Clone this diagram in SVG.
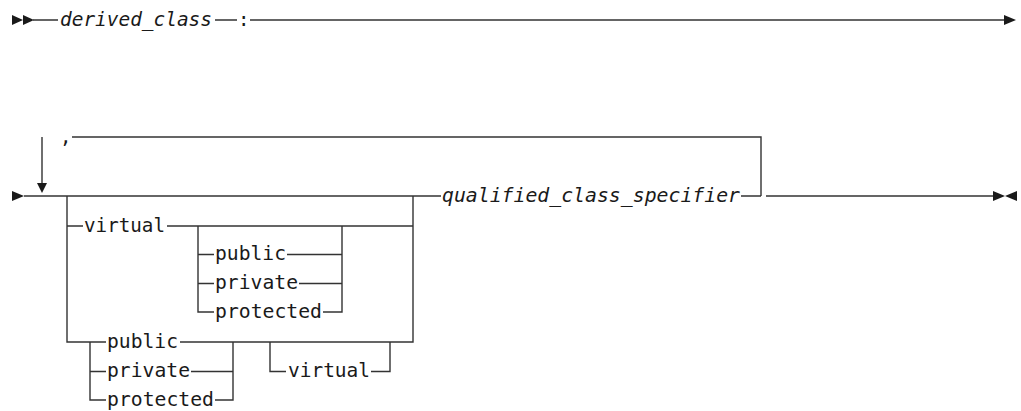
<svg xmlns="http://www.w3.org/2000/svg" width="1021" height="411" viewBox="0 0 1021 411">
<style>
.l{stroke:#333;stroke-width:1.4;fill:none}
.a{fill:#1a1a1a}
.t{font-family:"DejaVu Sans Mono","Liberation Mono",monospace;font-size:19px;fill:#1a1a1a}
.i{font-style:italic}
</style>
<rect width="1021" height="411" fill="#fff"/>
<g id="connectors">
<!-- row 1 -->
<polygon class="a" points="12,15 23,20 12,25"/>
<polygon class="a" points="23,15 34,20 23,25"/>
<path class="l" d="M33,20H58M215,20H237M250,20H1005"/>
<polygon class="a" points="1004,15 1016,20 1004,25"/>
<!-- row 2 -->
<polygon class="a" points="12,191 24,196 12,201"/>
<path class="l" d="M24,196H441"/>
<path class="l" d="M42,137V184M72,137H761V196M741,196H761M766,196H994"/>
<polygon class="a" points="37,183 47,183 42,193"/>
<polygon class="a" points="993,191 1005,196 993,201"/>
<polygon class="a" points="1017,191 1005,196 1017,201"/>
<!-- branch box -->
<path class="l" d="M67,196V342H106M180,342H413V196"/>
<path class="l" d="M67,226H83M167,226H413"/>
<path class="l" d="M198,226V312H214M342,226V312H323M198,254.5H214M287,254.5H342M198,283.5H214M299,283.5H342"/>
<path class="l" d="M90,342V400H106M233,342V400H215M90,371.5H106M191,371.5H233"/>
<path class="l" d="M270,342V371.5H286M390,342V371.5H371"/>
</g>
<g id="n_derived_class"><text class="t i" x="60" y="25.5" textLength="152" lengthAdjust="spacingAndGlyphs">derived_class</text></g>
<g id="n_colon"><text class="t" x="238" y="25.5">:</text></g>
<g id="n_comma"><text class="t" x="60" y="143">,</text></g>
<g id="n_qcs"><text class="t i" x="442" y="201.5" textLength="298" lengthAdjust="spacingAndGlyphs">qualified_class_specifier</text></g>
<g id="n_virtual1"><text class="t" x="84" y="231.5" textLength="81" lengthAdjust="spacingAndGlyphs">virtual</text></g>
<g id="n_public1"><text class="t" x="215" y="260" textLength="71" lengthAdjust="spacingAndGlyphs">public</text></g>
<g id="n_private1"><text class="t" x="215" y="289" textLength="83" lengthAdjust="spacingAndGlyphs">private</text></g>
<g id="n_protected1"><text class="t" x="215" y="317.5" textLength="107" lengthAdjust="spacingAndGlyphs">protected</text></g>
<g id="n_public2"><text class="t" x="107" y="347.5" textLength="71" lengthAdjust="spacingAndGlyphs">public</text></g>
<g id="n_private2"><text class="t" x="107" y="377" textLength="83" lengthAdjust="spacingAndGlyphs">private</text></g>
<g id="n_protected2"><text class="t" x="107" y="405.5" textLength="107" lengthAdjust="spacingAndGlyphs">protected</text></g>
<g id="n_virtual2"><text class="t" x="288" y="377" textLength="82" lengthAdjust="spacingAndGlyphs">virtual</text></g>
</svg>
